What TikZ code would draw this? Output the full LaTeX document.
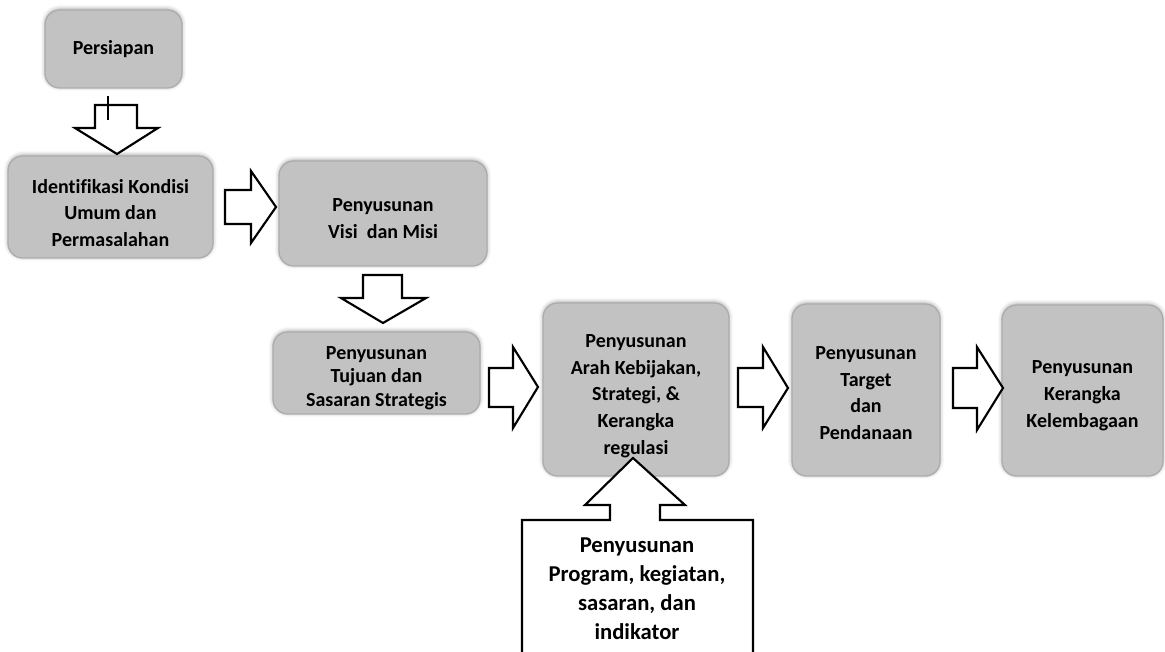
\documentclass[tikz,border=0pt]{standalone}
\usepackage{fontspec}
\setmainfont[Ligatures=NoCommon]{Carlito}
\usetikzlibrary{shadows.blur}
\definecolor{boxgray}{RGB}{194,194,194}
\definecolor{boxedge}{RGB}{172,172,172}
\tikzset{
  stepbox/.style={rounded corners=11pt, fill=boxgray, draw=boxedge, line width=1pt,
    blur shadow={shadow xshift=0pt, shadow yshift=0.8pt, shadow blur radius=3pt, shadow opacity=35}},
  steptext/.style={align=center, inner sep=0.75pt, font=\fontsize{15}{20}\selectfont\bfseries},
  blockarrow/.style={draw=black, fill=white, line width=1.6pt, line join=miter}
}
\begin{document}
\begin{tikzpicture}[x=0.75pt,y=0.75pt,yscale=-1,xscale=1]
        \useasboundingbox (0,0) rectangle (1165,652);
        %Shape: Rounded Rect [id:persiapan] 
        \node [stepbox, minimum width=102.75pt, minimum height=58.5pt] (persiapan) at (113.5,49) {};
        %Shape: Rounded Rect [id:identifikasi] 
        \node [stepbox, minimum width=153.75pt, minimum height=76.5pt] (identifikasi) at (110.5,207) {};
        %Shape: Rounded Rect [id:visimisi] 
        \node [stepbox, minimum width=156pt, minimum height=78.75pt] (visimisi) at (383,213.5) {};
        %Shape: Rounded Rect [id:tujuan] 
        \node [stepbox, minimum width=155.25pt, minimum height=61.5pt] (tujuan) at (376.5,373) {};
        %Shape: Rounded Rect [id:arah] 
        \node [stepbox, minimum width=139.5pt, minimum height=129.75pt] (arah) at (636,389.5) {};
        %Shape: Rounded Rect [id:target] 
        \node [stepbox, minimum width=111pt, minimum height=129pt] (target) at (866,390) {};
        %Shape: Rounded Rect [id:kelembagaan] 
        \node [stepbox, minimum width=120.75pt, minimum height=128.25pt] (kelembagaan) at (1082.5,390.5) {};

        % Text Node
        \node [steptext] (persiapantext) at (persiapan.center) {Persiapan};
        % Text Node
        \node [steptext] (identifikasitext) at ([yshift=4.5pt]identifikasi.center) {Identifikasi Kondisi\\Umum dan\\Permasalahan};
        % Text Node
        \node [steptext] (visimisitext) at ([yshift=3.75pt]visimisi.center) {Penyusunan\\Visi\ \ dan Misi};
        % Text Node
        \node [steptext, font=\fontsize{15}{17.6}\selectfont\bfseries] (tujuantext) at ([yshift=3.75pt]tujuan.center) {Penyusunan\\Tujuan dan\\Sasaran Strategis};
        % Text Node
        \node [steptext] (arahtext) at ([yshift=5pt]arah.center) {Penyusunan\\Arah Kebijakan,\\Strategi, \&\\Kerangka\\regulasi};
        % Text Node
        \node [steptext] (targettext) at ([yshift=2.25pt]target.center) {Penyusunan\\Target\\dan\\Pendanaan};
        % Text Node
        \node [steptext] (kelembagaantext) at ([yshift=4pt]kelembagaan.center) {Penyusunan\\Kerangka\\Kelembagaan};

        %Down Arrow [id:persiapan-identifikasi] 
        \draw [blockarrow] (95,105) -- (137,105) -- (137,128) -- (158,128) -- (117,154) -- (75,128) -- (95,128) -- cycle ;
        %Straight Lines [id:tick] 
        \draw [line width=0.8pt] (108,96) -- (108,120) ;
        %Right Arrow [id:identifikasi-visimisi] 
        \draw [blockarrow] (225,190) -- (251,190) -- (251,171) -- (276,207) -- (251,243) -- (251,224) -- (225,224) -- cycle ;
        %Down Arrow [id:visimisi-tujuan] 
        \draw [blockarrow] (363,275) -- (402,275) -- (402,298) -- (426,298) -- (383,323) -- (341,298) -- (363,298) -- cycle ;
        %Right Arrow [id:tujuan-arah] 
        \draw [blockarrow] (489,368) -- (513,368) -- (513,347) -- (538,387) -- (513,428) -- (513,407) -- (489,407) -- cycle ;
        %Right Arrow [id:arah-target] 
        \draw [blockarrow] (738,368) -- (763,368) -- (763,347) -- (788,388) -- (763,428) -- (763,407) -- (738,407) -- cycle ;
        %Right Arrow [id:target-kelembagaan] 
        \draw [blockarrow] (953,368) -- (977,368) -- (977,347) -- (1003,388) -- (977,430) -- (977,408) -- (953,408) -- cycle ;

        %Shape: Up Arrow Callout [id:program] 
        \draw [blockarrow] (522,665) -- (522,520) -- (610,520) -- (610,505) -- (585,505) -- (633,458) -- (685,505) -- (660,505) -- (660,520) -- (753,520) -- (753,665) ;
        % Text Node
        \node [align=center, inner sep=0.75pt, font=\fontsize{17}{21.75}\selectfont\bfseries] (program) at (637,589) {Penyusunan\\Program, kegiatan,\\sasaran, dan\\indikator};
    \end{tikzpicture}
\end{document}
